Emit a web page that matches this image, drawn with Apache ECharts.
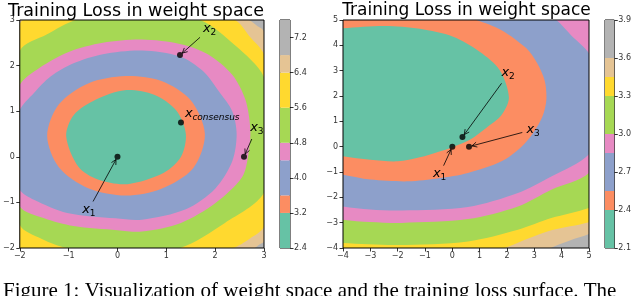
<!DOCTYPE html>
<html lang="en">
<head>
    <meta charset="utf-8">
    <title>Training Loss in weight space</title>
    <script src="https://cdn.jsdelivr.net/npm/echarts@6/dist/echarts.min.js"></script>
    <style type="text/css">
        html, body {
            margin: 0;
            padding: 0;
            background: #ffffff;
        }

        #main {
            width: 634px;
            height: 296px;
        }
    </style>
</head>
<body>
<div id="main"></div>
<script type="text/javascript">
    // Set2 colours, lowest band first
    const bandColors = ['#66c2a5', '#fc8d62', '#8da0cb', '#e78ac3', '#a6d854', '#ffd92f', '#e5c494', '#b3b3b3'];

    // ---- left panel ----
    const leftBands = [2.4, 3.2, 3.6, 4.4, 4.8, 5.6, 6.4, 6.8, 7.6];
    const leftBarTicks = [2.4, 3.2, 4.0, 4.8, 5.6, 6.4, 7.2];
    const leftAxisTicks = [-2, -1, 0, 1, 2, 3];
    // contour lines (x, y), one list per level
    const leftEdge32 = [[-1.05, 0.45], [-0.89, 0.92], [-0.45, 1.25], [0.15, 1.46], [0.75, 1.36], [1.2, 1.02], [1.4, 0.5],
        [1.3, 0.0], [0.95, -0.35], [0.2, -0.6], [-0.4, -0.5], [-0.8, -0.22]];
    const leftEdge36 = [[-1.44, 0.46], [-1.2, 1.15], [-0.6, 1.61], [0.17, 1.77], [0.9, 1.66], [1.5, 1.24], [1.79, 0.5],
        [1.55, -0.25], [0.9, -0.7], [0.17, -0.85], [-0.6, -0.69], [-1.2, -0.23]];
    const leftEdge44 = [[2.44, 0.5], [2.35, 1.0], [2.1, 1.4], [1.75, 1.88], [1.28, 2.2], [0.5, 2.33], [-0.3, 2.25],
        [-0.9, 2.05], [-1.37, 1.76], [-1.71, 1.4], [-2.0, 1.03], [-2.25, 0.15], [-2.0, -0.72], [-1.71, -0.94],
        [-1.03, -1.23], [-0.04, -1.35], [0.5, -1.38], [1.4, -1.15], [2.0, -0.7], [2.35, -0.1]];
    const leftEdge48 = [[2.72, 0.6], [2.62, 1.25], [2.35, 1.8], [1.85, 2.25], [1.3, 2.47], [0.5, 2.57], [-0.3, 2.5],
        [-1.0, 2.3], [-1.6, 1.95], [-2.0, 1.58], [-2.45, 0.25], [-2.0, -1.09], [-1.5, -1.35], [-0.9, -1.52],
        [0.0, -1.61], [0.5, -1.64], [1.3, -1.45], [2.0, -1.02], [2.55, -0.45], [2.68, 0.05]];
    const leftEdge56 = [[-2.0, 2.32], [-1.45, 2.68], [-0.85, 3.0], [0.4, 3.2], [1.69, 3.0], [2.4, 2.45], [3.0, 1.75],
        [3.2, 0.5], [3.0, -0.79], [2.2, -1.45], [1.28, -2.0], [0.1, -2.15], [-1.03, -2.0], [-1.55, -1.8],
        [-2.0, -1.49], [-2.35, 0.4]];
    const leftEdge64 = [[-2.0, 2.92], [-1.9, 3.02], [0.5, 3.6], [2.4, 3.0], [2.72, 2.62], [3.0, 2.25], [3.5, 0.5],
        [3.0, -1.53], [2.7, -1.8], [2.36, -2.0], [0.2, -2.6], [-2.5, -2.1], [-2.8, 0.5]];
    const leftEdge68 = [[2.69, 3.0], [2.85, 2.88], [3.0, 2.75], [3.6, 0.5], [3.0, -1.86], [2.9, -1.93], [2.81, -2.0],
        [0.5, -3.0], [-3.0, -3.0], [-3.0, 4.0], [0.5, 4.0]];
    const leftPoints = [[0, 0], [1.28, 2.23], [2.59, 0], [1.3, 0.75]];
    const leftNames = ['1', '2', '3', 'consensus'];
    const leftLabelAt = [[-0.72, -1.16], [1.75, 2.82], [2.72, 0.65], [1.38, 0.94]];
    const leftArrowFrom = [[-0.5, -0.98], [1.69, 2.62], [2.75, 0.39], null];

    // ---- right panel ----
    const rightBands = [2.1, 2.4, 2.55, 2.85, 3.0, 3.3, 3.45, 3.6, 3.9];
    const rightBarTicks = [2.1, 2.4, 2.7, 3.0, 3.3, 3.6, 3.9];
    const rightAxisTicks = [-4, -3, -2, -1, 0, 1, 2, 3, 4, 5];
    const rightEdge240 = [[-4.4, -0.3], [-4.0, -0.38], [-3.0, -0.52], [-2.0, -0.58], [-1.19, -0.42], [-0.5, -0.2],
        [0.0, -0.02], [0.64, 0.27], [1.25, 0.75], [1.8, 1.25], [2.07, 1.95], [1.73, 3.03], [1.0, 3.75],
        [0.03, 4.34], [-1.19, 4.65], [-2.47, 4.76], [-4.0, 4.67], [-4.5, 4.6], [-5.0, 2.0]];
    const rightEdge255 = [[-4.4, -1.05], [-4.0, -1.11], [-3.0, -1.3], [-1.62, -1.37], [-0.5, -1.25], [0.57, -1.04],
        [1.8, -0.58], [2.53, 0.0], [2.95, 0.53], [3.3, 1.2], [3.44, 1.85], [3.38, 2.6], [3.1, 3.3], [2.71, 3.88],
        [1.8, 4.6], [0.88, 5.0], [0.0, 5.3], [-2.0, 5.5], [-4.4, 5.3], [-5.0, 2.0]];
    const rightEdge285 = [[-4.5, -2.2], [-4.0, -2.36], [-3.0, -2.48], [-1.86, -2.52], [0.57, -2.38], [2.4, -1.83],
        [3.62, -1.18], [5.0, -0.3], [5.5, 1.0], [5.6, 2.3], [5.0, 3.69], [4.36, 4.38], [3.81, 5.0], [3.0, 5.6],
        [-4.0, 6.0], [-5.0, 2.0]];
    const rightEdge300 = [[-4.5, -2.75], [-4.0, -2.88], [-3.0, -2.97], [-1.86, -3.01], [0.57, -2.86], [2.4, -2.36],
        [3.62, -1.7], [5.0, -1.04], [5.8, 0.5], [6.0, 3.0], [5.3, 5.3], [4.0, 6.5], [-5.0, 6.0], [-5.0, 0.0]];
    const rightEdge330 = [[-4.5, -3.75], [-4.0, -3.8], [-2.0, -3.88], [0.57, -3.74], [2.4, -3.28], [3.62, -2.82],
        [5.0, -2.42], [5.6, -2.1], [6.5, 3.0], [4.0, 7.0], [-5.0, 6.0], [-5.0, -3.0]];
    const rightEdge345 = [[1.0, -4.3], [1.92, -4.0], [2.8, -3.62], [3.62, -3.3], [5.0, -2.98], [5.6, -2.7],
        [7.0, 3.0], [-5.0, 6.0], [-5.0, -4.5], [0.0, -4.5]];
    const rightEdge360 = [[3.0, -4.4], [3.6, -4.0], [4.3, -3.7], [5.0, -3.45], [5.6, -3.1], [7.0, 3.0],
        [-5.0, 6.0], [-5.0, -5.0]];
    const rightPoints = [[0, 0], [0.37, 0.38], [0.61, 0]];
    const rightNames = ['1', '2', '3'];
    const rightLabelAt = [[-0.71, -1.07], [1.8, 2.92], [2.71, 0.69]];
    const rightArrowFrom = [[-0.32, -0.75], [1.8, 2.5], [2.56, 0.56]];

    const titleText = 'Training Loss in weight space';
    const captionText = 'Figure 1: Visualization of weight space and the training loss surface. The';

    // outermost contour first, innermost (green) last
    const leftEdges = [leftEdge68, leftEdge64, leftEdge56, leftEdge48, leftEdge44, leftEdge36, leftEdge32];
    const rightEdges = [rightEdge360, rightEdge345, rightEdge330, rightEdge300, rightEdge285, rightEdge255, rightEdge240];
    const edgeColors = [bandColors[6], bandColors[5], bandColors[4], bandColors[3], bandColors[2], bandColors[1], bandColors[0]];

    const FONT = 'DejaVu Sans';

    function minus(v) {
        return String(v).replace('-', '\u2212');
    }

    function clipOf(params) {
        let cs = params.coordSys;
        return {type: 'rect', shape: {x: cs.x, y: cs.y, width: cs.width, height: cs.height}};
    }

    function contourSeries(idx, edges) {
        return {
            type: 'custom',
            xAxisIndex: idx,
            yAxisIndex: idx,
            z: 1,
            silent: true,
            data: edges.map(function (e, i) {
                return [i];
            }),
            renderItem: function (params, api) {
                let i = params.dataIndex;
                return {
                    type: 'polygon',
                    shape: {
                        points: edges[i].map(function (p) {
                            return api.coord(p);
                        }),
                        smooth: 0.3
                    },
                    style: {fill: edgeColors[i]},
                    clipPath: clipOf(params)
                };
            }
        };
    }

    function colorbarSeries(idx, bands) {
        let data = [];
        for (let i = 0; i < bands.length - 1; i++) {
            data.push([bands[i], bands[i + 1], i]);
        }
        return {
            type: 'custom',
            xAxisIndex: idx,
            yAxisIndex: idx,
            silent: true,
            data: data,
            encode: {y: [0, 1]},
            renderItem: function (params, api) {
                let lo = api.coord([0, api.value(0)]);
                let hi = api.coord([1, api.value(1)]);
                return {
                    type: 'rect',
                    shape: {x: lo[0], y: hi[1], width: hi[0] - lo[0], height: lo[1] - hi[1]},
                    style: {fill: bandColors[api.value(2)]}
                };
            }
        };
    }

    function frameSeries(idx) {
        return {
            type: 'custom',
            xAxisIndex: idx,
            yAxisIndex: idx,
            z: 20,
            silent: true,
            data: [[0]],
            renderItem: function (params) {
                let cs = params.coordSys;
                return {
                    type: 'rect',
                    shape: {x: cs.x, y: cs.y, width: cs.width, height: cs.height},
                    style: {fill: null, stroke: '#000', lineWidth: 1}
                };
            }
        };
    }

    // arrows and x_i labels
    function noteSeries(idx, points, names, labelAt, arrowFrom) {
        return {
            type: 'custom',
            xAxisIndex: idx,
            yAxisIndex: idx,
            z: 15,
            silent: true,
            data: points.map(function (p, i) {
                return [i];
            }),
            renderItem: function (params, api) {
                let i = params.dataIndex;
                let at = api.coord(labelAt[i]);
                let children = [
                    {
                        type: 'text', x: at[0], y: at[1],
                        style: {
                            text: 'x', font: 'italic 13px "' + FONT + '"', fill: '#000',
                            align: 'left', verticalAlign: 'middle'
                        }
                    },
                    {
                        type: 'text', x: at[0] + 7.5, y: at[1] + 4,
                        style: {
                            text: names[i],
                            font: (names[i].length > 1 ? 'italic ' : '') + '9px "' + FONT + '"',
                            fill: '#000', align: 'left', verticalAlign: 'middle'
                        }
                    }
                ];
                if (arrowFrom[i]) {
                    let a = api.coord(arrowFrom[i]);
                    let b = api.coord(points[i]);
                    let dx = b[0] - a[0], dy = b[1] - a[1];
                    let len = Math.sqrt(dx * dx + dy * dy);
                    let ux = dx / len, uy = dy / len;
                    let tip = [b[0] - ux * 3, b[1] - uy * 3];
                    let hl = 5, hw = 2.5;
                    children.push({
                        type: 'line',
                        shape: {x1: a[0], y1: a[1], x2: tip[0], y2: tip[1]},
                        style: {stroke: '#000', lineWidth: 0.8}
                    });
                    children.push({
                        type: 'polyline',
                        shape: {
                            points: [
                                [tip[0] - ux * hl - uy * hw, tip[1] - uy * hl + ux * hw],
                                tip,
                                [tip[0] - ux * hl + uy * hw, tip[1] - uy * hl - ux * hw]
                            ]
                        },
                        style: {stroke: '#000', lineWidth: 0.8, fill: null}
                    });
                }
                return {type: 'group', children: children};
            }
        };
    }

    function plotAxis(idx, ticks, isX) {
        return {
            type: 'value',
            gridIndex: idx,
            min: ticks[0],
            max: ticks[ticks.length - 1],
            z: 10,
            splitLine: {show: false},
            axisLine: {show: false, onZero: false},
            axisTick: {show: true, inside: false, length: 3.5, customValues: ticks, lineStyle: {color: '#000', width: 0.8}},
            axisLabel: {
                customValues: ticks, fontSize: 8, fontFamily: FONT, color: '#333', margin: isX ? 4 : 5,
                formatter: minus
            }
        };
    }

    function barAxes(idx, ticks) {
        return {
            x: {type: 'value', gridIndex: idx, min: 0, max: 1, show: false},
            y: {
                type: 'value',
                gridIndex: idx,
                position: 'right',
                min: ticks[0],
                max: ticks[ticks.length - 1],
                splitLine: {show: false},
                axisLine: {show: false, onZero: false},
                axisTick: {show: true, inside: false, length: 3.5, customValues: ticks, lineStyle: {color: '#000', width: 0.8}},
                axisLabel: {
                    customValues: ticks, fontSize: 8, fontFamily: FONT, color: '#333', margin: 4,
                    formatter: function (v) {
                        return v.toFixed(1);
                    }
                }
            }
        };
    }

    let leftBar = barAxes(1, leftBarTicks);
    leftBar.y.max = leftBands[leftBands.length - 1];
    let rightBar = barAxes(3, rightBarTicks);

    let chart = echarts.init(document.getElementById('main'), null, {renderer: 'canvas'});
    chart.setOption({
        animation: false,
        backgroundColor: '#ffffff',
        title: [
            {
                text: titleText, left: 136, top: 2, padding: 0, textAlign: 'center',
                textStyle: {fontFamily: FONT, fontSize: 17.5, fontWeight: 'normal', color: '#000'}
            },
            {
                text: titleText, left: 466.5, top: 2, padding: 0, textAlign: 'center',
                textStyle: {fontFamily: FONT, fontSize: 17, fontWeight: 'normal', color: '#000'}
            },
            {
                text: captionText, left: 3, top: 281, padding: 0,
                textStyle: {fontFamily: 'Liberation Serif', fontSize: 21, fontWeight: 'normal', color: '#000'}
            }
        ],
        grid: [
            {left: 19, top: 20, width: 245, height: 228, show: true, backgroundColor: bandColors[7], borderWidth: 0},
            {left: 280, top: 20, width: 10, height: 228, show: true, borderColor: '#000', borderWidth: 1},
            {left: 343, top: 20, width: 246, height: 228, show: true, backgroundColor: bandColors[7], borderWidth: 0},
            {left: 605, top: 20, width: 10, height: 228, show: true, borderColor: '#000', borderWidth: 1}
        ],
        xAxis: [plotAxis(0, leftAxisTicks, true), leftBar.x, plotAxis(2, rightAxisTicks, true), rightBar.x],
        yAxis: [plotAxis(0, leftAxisTicks, false), leftBar.y, plotAxis(2, rightAxisTicks, false), rightBar.y],
        series: [
            contourSeries(0, leftEdges),
            colorbarSeries(1, leftBands),
            contourSeries(2, rightEdges),
            colorbarSeries(3, rightBands),
            frameSeries(0),
            frameSeries(2),
            noteSeries(0, leftPoints, leftNames, leftLabelAt, leftArrowFrom),
            noteSeries(2, rightPoints, rightNames, rightLabelAt, rightArrowFrom),
            {
                type: 'scatter', xAxisIndex: 0, yAxisIndex: 0, z: 16, silent: true,
                symbolSize: 6, itemStyle: {color: '#000'}, data: leftPoints
            },
            {
                type: 'scatter', xAxisIndex: 2, yAxisIndex: 2, z: 16, silent: true,
                symbolSize: 6, itemStyle: {color: '#000'}, data: rightPoints
            }
        ]
    });
</script>
</body>
</html>
